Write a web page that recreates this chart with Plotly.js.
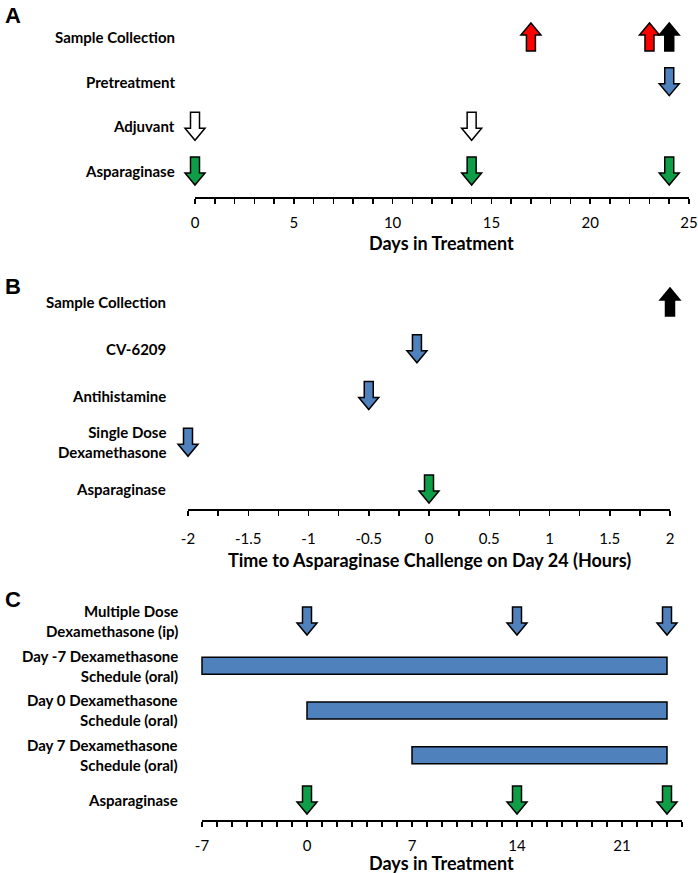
<!DOCTYPE html>
<html><head><meta charset="utf-8">
<script src="https://cdn.plot.ly/plotly-3.0.1.min.js"></script>
<style>html,body{margin:0;padding:0;background:#fff}</style>
</head><body><div id="chart" style="width:698px;height:873px"></div>
<script>
// ---------- DATA ----------
// Panel A (rows top to bottom)
const rowsA = ['Sample Collection', 'Pretreatment', 'Adjuvant', 'Asparaginase'];
const sampleRedA = [17, 23];
const sampleBlackA = [24];
const pretreatmentA = [24];
const adjuvantA = [0, 14];
const asparaginaseA = [0, 14, 24];
const rangeA = [0, 25];
const ticksA = [0, 5, 10, 15, 20, 25];
const titleA = 'Days in Treatment';

// Panel B (rows top to bottom)
const rowsB = ['Sample Collection', 'CV-6209', 'Antihistamine', 'Single Dose<br>Dexamethasone', 'Asparaginase'];
const sampleB = [2];
const cv6209B = [-0.1];
const antihistamineB = [-0.5];
const singleDexB = [-2];
const asparaginaseB = [0];
const rangeB = [-2, 2];
const ticksB = [-2, -1.5, -1, -0.5, 0, 0.5, 1, 1.5, 2];
const titleB = 'Time to Asparaginase Challenge on Day 24 (Hours)';

// Panel C (rows top to bottom)
const rowsC = ['Multiple Dose<br>Dexamethasone (ip)', 'Day -7 Dexamethasone<br>Schedule (oral)',
               'Day 0 Dexamethasone<br>Schedule (oral)', 'Day 7 Dexamethasone<br>Schedule (oral)', 'Asparaginase'];
const multiDexC = [0, 14, 24];
const scheduleRowsC = [rowsC[1], rowsC[2], rowsC[3]];
const scheduleStartC = [-7, 0, 7];
const scheduleEndC = [24, 24, 24];
const asparaginaseC = [0, 14, 24];
const rangeC = [-7, 25];
const ticksC = [-7, 0, 7, 14, 21];
const titleC = 'Days in Treatment';

// ---------- STYLE / LAYOUT HELPERS ----------
const W = 698, H = 873;
const fx = p => p / W, fy = p => 1 - p / H;
const BLUE = '#4F81BD', GREEN = '#0E9E47', RED = '#FF0000', BLACK = '#000000', WHITE = '#FFFFFF';
const FAM = 'Lato, "Open Sans", sans-serif';
const LABEL_FONT = {family: FAM, size: 15, color: '#000', weight: 'bold'};
const TICK_FONT = {family: FAM, size: 15, color: '#000'};
const TITLE_FONT = {family: FAM, size: 18, color: '#000', weight: 'bold'};

function arrowPath(dir) {
  const h = 14, hb = 2, sw = 4.5, hw = 10;
  if (dir === 'down')
    return `M${-sw},${h} L${sw},${h} L${sw},${-hb} L${hw},${-hb} L0,${-h} L${-hw},${-hb} L${-sw},${-hb} Z`;
  return `M${-sw},${-h} L${sw},${-h} L${sw},${hb} L${hw},${hb} L0,${h} L${-hw},${hb} L${-sw},${hb} Z`;
}

const shapes = [];
const annotations = [];
function addArrows(ax, rows, rowName, values, dir, color) {
  const idx = rows.length - 1 - rows.indexOf(rowName);
  values.forEach(v => shapes.push({
    type: 'path', xref: 'x' + ax, yref: 'y' + ax,
    xsizemode: 'pixel', ysizemode: 'pixel', xanchor: v, yanchor: idx,
    path: arrowPath(dir), fillcolor: color, line: {color: BLACK, width: 1.5}, layer: 'above'
  }));
}
function addRowLabels(ax, rows, rightPx) {
  rows.forEach((r, i) => annotations.push({
    xref: 'paper', yref: 'y' + ax, x: fx(rightPx), y: rows.length - 1 - i,
    xanchor: 'right', yanchor: 'middle', align: 'right', showarrow: false,
    text: r, font: LABEL_FONT
  }));
}

const layout = {
  width: W, height: H, margin: {l: 0, r: 0, t: 0, b: 0},
  paper_bgcolor: '#fff', plot_bgcolor: 'rgba(0,0,0,0)', showlegend: false,
  shapes: shapes, annotations: annotations
};

// content subplot + separate axis subplot for each panel
function setupPanel(n, axisN, rows, range, axisPx, axisY, rowTopPx, rowBottomPx, padL, padR, ticks, minorDtick, title, labelStandoff, titleY) {
  const ppu = (axisPx[1] - axisPx[0]) / (range[1] - range[0]);
  const step = (rowBottomPx - rowTopPx) / (rows.length - 1);
  const sfx = n === 1 ? '' : n;
  layout['xaxis' + sfx] = {
    domain: [fx(axisPx[0] - padL), fx(axisPx[1] + padR)],
    range: [range[0] - padL / ppu, range[1] + padR / ppu],
    visible: false, anchor: 'y' + sfx, fixedrange: true
  };
  layout['yaxis' + sfx] = {
    domain: [fy(rowBottomPx + step / 2), fy(rowTopPx - step / 2)],
    type: 'category', categoryorder: 'array', categoryarray: rows.slice().reverse(),
    range: [-0.5, rows.length - 0.5], visible: false, anchor: 'x' + sfx, fixedrange: true
  };
  layout['xaxis' + axisN] = {
    domain: [fx(axisPx[0]), fx(axisPx[1])], range: range, anchor: 'y' + axisN,
    showline: true, linecolor: BLACK, linewidth: 1.5, showgrid: false, zeroline: false,
    ticks: 'outside', ticklen: 5, tickwidth: 1.5, tickcolor: BLACK,
    tickmode: 'array', tickvals: ticks, ticktext: ticks.map(String),
    tickfont: TICK_FONT, ticklabelstandoff: labelStandoff, ticklabeloverflow: 'allow',
    minor: {tickmode: 'linear', tick0: range[0], dtick: minorDtick, ticks: 'outside', ticklen: 5, tickwidth: 1.5, tickcolor: BLACK, showgrid: false},
    fixedrange: true
  };
  layout['yaxis' + axisN] = {
    domain: [fy(axisY), fy(axisY) + 0.004], visible: false, anchor: 'x' + axisN, fixedrange: true
  };
  // axis title
  annotations.push({
    xref: 'paper', yref: 'paper', x: fx((axisPx[0] + axisPx[1]) / 2), y: fy(titleY),
    xanchor: 'center', yanchor: 'middle', showarrow: false, text: title, font: TITLE_FONT
  });
}

setupPanel(1, 4, rowsA, rangeA, [195, 689], 197, 37, 171, 25, 8, ticksA, 1, titleA, 6, 243);
setupPanel(2, 5, rowsB, rangeB, [188, 670], 509, 302, 489, 25, 20, ticksB, 0.25, titleB, 10, 560);
setupPanel(3, 6, rowsC, rangeC, [202, 682], 820, 621, 800, 25, 10, ticksC, 1, titleC, 6, 863);

// arrows
addArrows('', rowsA, 'Sample Collection', sampleRedA, 'up', RED);
addArrows('', rowsA, 'Sample Collection', sampleBlackA, 'up', BLACK);
addArrows('', rowsA, 'Pretreatment', pretreatmentA, 'down', BLUE);
addArrows('', rowsA, 'Adjuvant', adjuvantA, 'down', WHITE);
addArrows('', rowsA, 'Asparaginase', asparaginaseA, 'down', GREEN);

addArrows('2', rowsB, 'Sample Collection', sampleB, 'up', BLACK);
addArrows('2', rowsB, 'CV-6209', cv6209B, 'down', BLUE);
addArrows('2', rowsB, 'Antihistamine', antihistamineB, 'down', BLUE);
addArrows('2', rowsB, 'Single Dose<br>Dexamethasone', singleDexB, 'down', BLUE);
addArrows('2', rowsB, 'Asparaginase', asparaginaseB, 'down', GREEN);

addArrows('3', rowsC, rowsC[0], multiDexC, 'down', BLUE);
addArrows('3', rowsC, 'Asparaginase', asparaginaseC, 'down', GREEN);

addRowLabels('', rowsA, 177);
addRowLabels('2', rowsB, 168);
addRowLabels('3', rowsC, 180);

// panel letters
[['A', 15], ['B', 287], ['C', 599]].forEach(([t, y]) => annotations.push({
  xref: 'paper', yref: 'paper', x: fx(3), y: fy(y), xanchor: 'left', yanchor: 'middle',
  showarrow: false, text: t, font: {family: '"Liberation Sans", Arial, sans-serif', size: 22, weight: 'bold', color: '#000'}
}));

const traces = [
  {type: 'scatter', x: [], y: [], xaxis: 'x', yaxis: 'y', hoverinfo: 'skip'},
  {type: 'scatter', x: [], y: [], xaxis: 'x2', yaxis: 'y2', hoverinfo: 'skip'},
  {type: 'bar', orientation: 'h', y: scheduleRowsC, base: scheduleStartC,
   x: scheduleEndC.map((e, i) => e - scheduleStartC[i]), width: 17 / 44.75,
   marker: {color: BLUE, line: {color: BLACK, width: 1.5}}, xaxis: 'x3', yaxis: 'y3', hoverinfo: 'skip'},
  {type: 'scatter', x: [], y: [], xaxis: 'x4', yaxis: 'y4', hoverinfo: 'skip'},
  {type: 'scatter', x: [], y: [], xaxis: 'x5', yaxis: 'y5', hoverinfo: 'skip'},
  {type: 'scatter', x: [], y: [], xaxis: 'x6', yaxis: 'y6', hoverinfo: 'skip'}
];

Plotly.newPlot('chart', traces, layout, {staticPlot: true, displayModeBar: false});
</script>
</body></html>
